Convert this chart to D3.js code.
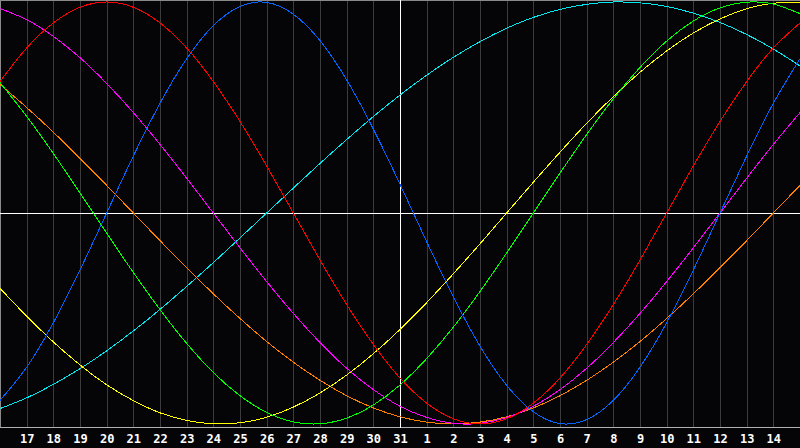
<!DOCTYPE html>
<html>
<head>
<meta charset="utf-8">
<script src="https://cdn.jsdelivr.net/npm/d3@7"></script>
<style>
  html, body { margin: 0; padding: 0; background: #050508; }
  svg { display: block; }
</style>
</head>
<body>
<svg width="800" height="448"></svg>
<script>
// days shown, 16th of last month through 15th of this one
const days = [16, 17, 18, 19, 20, 21, 22, 23, 24, 25, 26, 27, 28, 29, 30, 31,
              1, 2, 3, 4, 5, 6, 7, 8, 9, 10, 11, 12, 13, 14, 15];

// cycle values per day (-1 .. 1)
const physical = [-0.888, -0.731, -0.520, -0.270, 0.000, 0.270, 0.520, 0.731, 0.888, 0.979, 0.998, 0.942, 0.817, 0.631, 0.398, 0.136,
                  -0.136, -0.398, -0.631, -0.817, -0.942, -0.998, -0.979, -0.888, -0.731, -0.520, -0.270, 0.000, 0.270, 0.520, 0.731];
const emotional = [0.623, 0.782, 0.901, 0.975, 1.000, 0.975, 0.901, 0.782, 0.623, 0.434, 0.223, 0.000, -0.223, -0.434, -0.623, -0.782,
                   -0.901, -0.975, -1.000, -0.975, -0.901, -0.782, -0.623, -0.434, -0.223, 0.000, 0.223, 0.434, 0.623, 0.782, 0.901];
const intellectual = [0.618, 0.458, 0.282, 0.095, -0.095, -0.282, -0.458, -0.618, -0.756, -0.866, -0.945, -0.990, -0.999, -0.972, -0.910, -0.815,
                      -0.690, -0.541, -0.372, -0.189, 0.000, 0.189, 0.372, 0.541, 0.690, 0.815, 0.910, 0.972, 0.999, 0.990, 0.945];
const intuitive = [0.969, 0.916, 0.837, 0.736, 0.614, 0.476, 0.325, 0.165, 0.000, -0.165, -0.325, -0.476, -0.614, -0.736, -0.837, -0.916,
                   -0.969, -0.997, -0.997, -0.969, -0.916, -0.837, -0.736, -0.614, -0.476, -0.325, -0.165, 0.000, 0.165, 0.325, 0.476];
const aesthetic = [-0.357, -0.489, -0.611, -0.720, -0.814, -0.889, -0.947, -0.983, -0.999, -0.994, -0.968, -0.920, -0.853, -0.768, -0.667, -0.552,
                   -0.425, -0.288, -0.146, 0.000, 0.146, 0.288, 0.425, 0.552, 0.667, 0.768, 0.853, 0.920, 0.968, 0.994, 0.999];
const awareness = [0.609, 0.500, 0.383, 0.259, 0.131, 0.000, -0.131, -0.259, -0.383, -0.500, -0.609, -0.707, -0.793, -0.866, -0.924, -0.966,
                   -0.991, -1.000, -0.991, -0.966, -0.924, -0.866, -0.793, -0.707, -0.609, -0.500, -0.383, -0.259, -0.131, 0.000, 0.131];
const spiritual = [-0.927, -0.876, -0.812, -0.738, -0.653, -0.559, -0.457, -0.348, -0.235, -0.118, 0.000, 0.118, 0.235, 0.348, 0.457, 0.559,
                   0.653, 0.738, 0.812, 0.876, 0.927, 0.965, 0.989, 1.000, 0.996, 0.979, 0.947, 0.903, 0.846, 0.777, 0.697];

const cycles = [
  {name: 'spiritual', values: spiritual, color: '#00e8f0'},
  {name: 'awareness', values: awareness, color: '#ff8000'},
  {name: 'aesthetic', values: aesthetic, color: '#ffff00'},
  {name: 'intuitive', values: intuitive, color: '#ff00ff'},
  {name: 'intellectual', values: intellectual, color: '#00ff00'},
  {name: 'physical', values: physical, color: '#0066ff'},
  {name: 'emotional', values: emotional, color: '#ff0000'}
];

const svg = d3.select('svg'),
      width = +svg.attr('width'),
      plotBottom = 428;

const x = d3.scaleLinear()
  .domain([0, days.length - 1])
  .range([0, width]);

const y = d3.scaleLinear()
  .domain([-1, 1])
  .range([424, 2]);

const inner = d3.range(1, days.length - 1);

// day grid
svg.append('g')
  .attr('transform', `translate(0, ${plotBottom})`)
  .call(d3.axisBottom(x).tickValues(inner).tickSize(-plotBottom).tickFormat(''))
  .call(g => g.select('.domain').remove())
  .call(g => g.selectAll('line').attr('stroke', '#3c3c3c').attr('shape-rendering', 'crispEdges'));

// frame
svg.append('line').attr('x1', 0).attr('x2', width).attr('y1', 0.5).attr('y2', 0.5)
  .attr('stroke', '#8a8a8a').attr('shape-rendering', 'crispEdges');
svg.append('line').attr('x1', 0.5).attr('x2', 0.5).attr('y1', 0).attr('y2', plotBottom)
  .attr('stroke', '#8a8a8a').attr('shape-rendering', 'crispEdges');
svg.append('line').attr('x1', 0).attr('x2', width).attr('y1', plotBottom - 0.5).attr('y2', plotBottom - 0.5)
  .attr('stroke', '#b0b0b0').attr('shape-rendering', 'crispEdges');

// zero line and today
svg.append('line')
  .attr('x1', 0).attr('x2', width)
  .attr('y1', Math.round(y(0)) + 0.5).attr('y2', Math.round(y(0)) + 0.5)
  .attr('stroke', '#ffffff').attr('stroke-width', 1).attr('shape-rendering', 'crispEdges');
svg.append('line')
  .attr('x1', x(15) + 0.5).attr('x2', x(15) + 0.5)
  .attr('y1', 0).attr('y2', plotBottom)
  .attr('stroke', '#ffffff').attr('stroke-width', 1).attr('shape-rendering', 'crispEdges');

const line = d3.line()
  .x((v, i) => x(i))
  .y(v => y(v))
  .curve(d3.curveNatural);

svg.append('g').selectAll('path')
  .data(cycles)
  .enter().append('path')
    .attr('fill', 'none')
    .attr('stroke', c => c.color)
    .attr('stroke-width', 1)
    .attr('shape-rendering', 'crispEdges')
    .attr('d', c => line(c.values));

// day labels
svg.append('g')
  .attr('transform', `translate(0, ${plotBottom})`)
  .call(d3.axisBottom(x).tickValues(inner).tickSize(0).tickPadding(6).tickFormat(i => days[i]))
  .call(g => g.select('.domain').remove())
  .call(g => g.selectAll('text')
    .attr('fill', '#ffffff')
    .attr('font-family', 'DejaVu Sans Mono')
    .attr('font-weight', 'bold')
    .attr('font-size', 12));
</script>
</body>
</html>
